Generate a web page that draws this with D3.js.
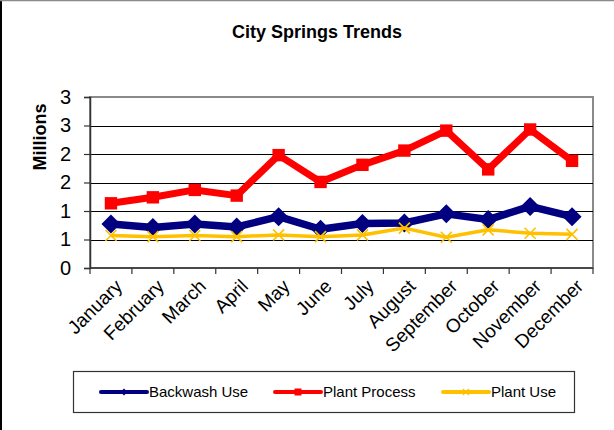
<!DOCTYPE html>
<html>
<head>
<meta charset="utf-8">
<script src="https://cdn.jsdelivr.net/npm/d3@7"></script>
<style>
  html, body { margin: 0; padding: 0; background: #fff; }
  svg { display: block; font-family: "Liberation Sans", Arial, sans-serif; }
</style>
</head>
<body>
<svg id="chart" width="614" height="430"></svg>
<script>
// Monthly figures, in millions
const months = ["January", "February", "March", "April", "May", "June",
                "July", "August", "September", "October", "November", "December"];
const backwashUse  = [0.77, 0.71, 0.77, 0.72, 0.90, 0.68, 0.78, 0.79, 0.95, 0.85, 1.08, 0.90];
const plantProcess = [1.135, 1.24, 1.37, 1.27, 1.98, 1.51, 1.81, 2.06, 2.41, 1.73, 2.43, 1.88];
const plantUse     = [0.57, 0.55, 0.57, 0.55, 0.58, 0.55, 0.58, 0.70, 0.54, 0.67, 0.61, 0.59];

const yTickValues = [0, 0.5, 1, 1.5, 2, 2.5, 3];
const yTickLabels = ["0", "1", "1", "2", "2", "3", "3"];

const seriesNames = ["Backwash Use", "Plant Process", "Plant Use"];

const svg = d3.select("#chart");
const W = 614, H = 430;
const plot = { left: 90, right: 593, top: 97, bottom: 268 };

// Outer frame
svg.append("line").attr("x1", 1).attr("x2", 1).attr("y1", 0).attr("y2", H)
  .attr("stroke", "#000").attr("stroke-width", 2);
svg.append("line").attr("x1", 0).attr("x2", W).attr("y1", 0.5).attr("y2", 0.5)
  .attr("stroke", "#8a8a8a").attr("stroke-width", 1.5);

// Title
svg.append("text")
  .attr("x", 317).attr("y", 38)
  .attr("text-anchor", "middle")
  .attr("font-weight", "bold")
  .attr("font-size", 18)
  .text("City Springs Trends");

const x = d3.scaleBand().domain(months).range([plot.left, plot.right]).padding(0);
const y = d3.scaleLinear().domain([0, 3]).range([plot.bottom, plot.top]);
const cx = m => x(m) + x.bandwidth() / 2;

// Plot area border
svg.append("rect")
  .attr("x", plot.left).attr("y", plot.top)
  .attr("width", plot.right - plot.left).attr("height", plot.bottom - plot.top)
  .attr("fill", "none").attr("stroke", "#8a8a8a").attr("stroke-width", 2);

// Horizontal gridlines
svg.append("g")
  .selectAll("line")
  .data(yTickValues.filter(v => v > 0 && v < 3))
  .join("line")
  .attr("x1", plot.left).attr("x2", plot.right)
  .attr("y1", d => Math.round(y(d)) + 0.5).attr("y2", d => Math.round(y(d)) + 0.5)
  .attr("stroke", "#000").attr("stroke-width", 1);

// Y axis
const yAxis = d3.axisLeft(y)
  .tickValues(yTickValues)
  .tickSize(6)
  .tickPadding(13)
  .tickFormat((d, i) => yTickLabels[i]);
const gy = svg.append("g").attr("transform", `translate(${plot.left},0)`).call(yAxis);
gy.select(".domain").attr("stroke", "#333").attr("stroke-width", 1.5);
gy.selectAll(".tick line").attr("stroke", "#333").attr("stroke-width", 1.2);
gy.selectAll(".tick text")
  .attr("font-family", "Liberation Sans, Arial, sans-serif")
  .attr("font-size", 20).attr("fill", "#000");

// X axis: ticks at category boundaries
const gx = svg.append("g").attr("transform", `translate(0,${plot.bottom})`);
gx.append("line").attr("x1", plot.left).attr("x2", plot.right)
  .attr("y1", 0).attr("y2", 0).attr("stroke", "#333").attr("stroke-width", 1.5);
const bounds = months.map(m => x(m)).concat([plot.right]);
gx.selectAll("line.tk").data(bounds).join("line").attr("class", "tk")
  .attr("x1", d => d).attr("x2", d => d).attr("y1", 0).attr("y2", 6)
  .attr("stroke", "#333").attr("stroke-width", 1.2);
gx.selectAll("text").data(months).join("text")
  .attr("transform", d => `translate(${cx(d) + 3},${10}) rotate(-45)`)
  .attr("text-anchor", "end")
  .attr("dy", "0.7em")
  .attr("font-size", 19)
  .text(d => d);

// Y axis title
svg.append("text")
  .attr("transform", "translate(46,137) rotate(-90)")
  .attr("text-anchor", "middle")
  .attr("font-weight", "bold")
  .attr("font-size", 18)
  .text("Millions");

// Marker shapes
const diamond = s => `M0,${-s}L${s},0L0,${s}L${-s},0Z`;
const square = s => `M${-s},${-s}H${s}V${s}H${-s}Z`;
const cross = s => `M${-s},${-s}L${s},${s}M${s},${-s}L${-s},${s}`;

const series = [
  { name: seriesNames[0], values: backwashUse, color: "#000080", width: 7.5,
    marker: diamond(9.5), markerFill: true, legendMarker: diamond(3.5) },
  { name: seriesNames[1], values: plantProcess, color: "#ff0000", width: 7,
    marker: square(6.2), markerFill: true, legendMarker: square(3.5) },
  { name: seriesNames[2], values: plantUse, color: "#ffc000", width: 3.5,
    marker: cross(5.5), markerFill: false, legendMarker: cross(3) }
];

const line = d3.line().x(d => cx(d.m)).y(d => y(d.v));

series.forEach(s => {
  const pts = months.map((m, i) => ({ m, v: s.values[i] }));
  const g = svg.append("g");
  g.append("path").datum(pts)
    .attr("d", line)
    .attr("fill", "none")
    .attr("stroke", s.color)
    .attr("stroke-width", s.width)
    .attr("stroke-linejoin", "round");
  g.selectAll("path.mk").data(pts).join("path").attr("class", "mk")
    .attr("transform", d => `translate(${cx(d.m)},${y(d.v)})`)
    .attr("d", s.marker)
    .attr("fill", s.markerFill ? s.color : "none")
    .attr("stroke", s.color)
    .attr("stroke-width", s.markerFill ? 0 : 1.6);
});

// Legend
const legend = svg.append("g");
legend.append("rect")
  .attr("x", 73.5).attr("y", 371.5).attr("width", 501).attr("height", 41)
  .attr("fill", "#fff").attr("stroke", "#333").attr("stroke-width", 1.2);
const legendX = [101, 275, 443];
series.forEach((s, i) => {
  const gx0 = legendX[i], gy0 = 392;
  const g = legend.append("g").attr("transform", `translate(${gx0},${gy0})`);
  g.append("line").attr("x1", 0).attr("x2", 46).attr("y1", 0).attr("y2", 0)
    .attr("stroke", s.color).attr("stroke-width", 4).attr("stroke-linecap", "round");
  g.append("path").attr("transform", "translate(23,0)")
    .attr("d", s.legendMarker)
    .attr("fill", s.markerFill ? s.color : "none")
    .attr("stroke", s.color).attr("stroke-width", s.markerFill ? 0 : 1.2);
  g.append("text").attr("x", 48).attr("y", 0).attr("dy", "0.35em")
    .attr("font-size", 15).text(s.name);
});
</script>
</body>
</html>
